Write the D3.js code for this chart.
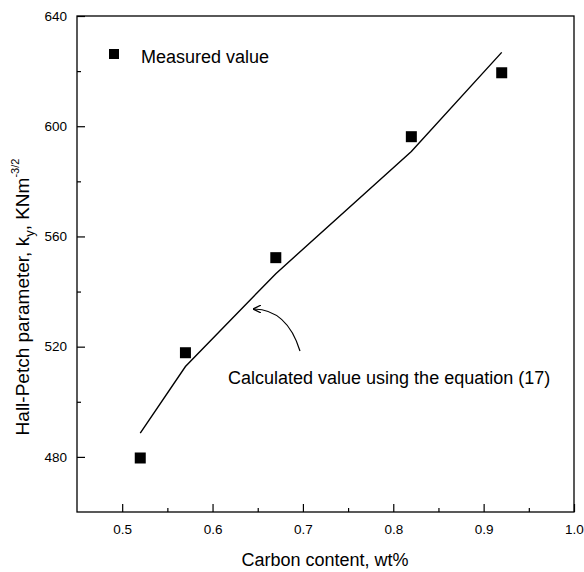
<!DOCTYPE html>
<html>
<head>
<meta charset="utf-8">
<script src="https://cdn.jsdelivr.net/npm/d3@7"></script>
<style>
  body { margin: 0; background: #fff; }
  text { font-family: "Liberation Sans", Arial, sans-serif; fill: #000; }
</style>
</head>
<body>
<svg id="chart" width="584" height="572"></svg>
<script>
// measured Hall-Petch parameter vs carbon content
var carbon = [0.52, 0.57, 0.67, 0.82, 0.92]
var measured = [479.6, 517.8, 552.3, 596.2, 619.4]

// calculated curve, equation (17)
var calcCarbon = [0.52, 0.57, 0.67, 0.82, 0.92]
var calcValue = [488.6, 512.8, 546.5, 590.8, 626.8]

var xTicks = [0.5, 0.6, 0.7, 0.8, 0.9, 1.0]
var xMinor = [0.55, 0.65, 0.75, 0.85, 0.95]
var yTicks = [480, 520, 560, 600, 640]
var yMinor = [500, 540, 580, 620]

var svg = d3.select('#chart')
var m = { left: 77, right: 574, top: 16, bottom: 512 }

var x = d3.scaleLinear().domain([0.45, 1.0]).range([m.left, m.right])
var y = d3.scaleLinear().domain([460, 640]).range([m.bottom, m.top])

// frame
svg.append('rect')
  .attr('x', m.left).attr('y', m.top)
  .attr('width', m.right - m.left).attr('height', m.bottom - m.top)
  .attr('fill', 'none').attr('stroke', '#000').attr('stroke-width', 1.3)

// x axis, ticks pointing inward
var xAxis = svg.append('g').attr('transform', 'translate(0,' + m.bottom + ')')
  .call(d3.axisTop(x).tickValues(xTicks).tickSize(8).tickFormat(d3.format('.1f')))
xAxis.select('.domain').remove()
xAxis.selectAll('text').attr('y', 22).attr('dy', 0).attr('font-size', 13.5)
svg.append('g').attr('transform', 'translate(0,' + m.bottom + ')')
  .call(d3.axisTop(x).tickValues(xMinor).tickSize(4).tickFormat(''))
  .select('.domain').remove()

// y axis, ticks pointing inward
var yAxis = svg.append('g').attr('transform', 'translate(' + m.left + ',0)')
  .call(d3.axisRight(y).tickValues(yTicks).tickSize(8).tickFormat(d3.format('d')))
yAxis.select('.domain').remove()
yAxis.selectAll('text').attr('x', -10).attr('text-anchor', 'end').attr('font-size', 13.5)
svg.append('g').attr('transform', 'translate(' + m.left + ',0)')
  .call(d3.axisRight(y).tickValues(yMinor).tickSize(4).tickFormat(''))
  .select('.domain').remove()

svg.selectAll('.tick line').attr('stroke', '#000').attr('stroke-width', 1.2)
svg.selectAll('.tick text').attr('fill', '#000').attr('font-family', '"Liberation Sans", Arial, sans-serif')

// calculated line
var line = d3.line().x(function (d, i) { return x(calcCarbon[i]) }).y(function (d) { return y(d) })
svg.append('path')
  .datum(calcValue)
  .attr('d', line)
  .attr('fill', 'none').attr('stroke', '#000').attr('stroke-width', 1.4)

// measured squares
var sq = 11
svg.selectAll('.pt')
  .data(measured)
  .enter().append('rect')
  .attr('class', 'pt')
  .attr('x', function (d, i) { return x(carbon[i]) - sq / 2 })
  .attr('y', function (d) { return y(d) - sq / 2 })
  .attr('width', sq).attr('height', sq)
  .attr('fill', '#000')

// legend
svg.append('rect').attr('x', 109).attr('y', 49).attr('width', 10).attr('height', 10).attr('fill', '#000')
svg.append('text').attr('x', 141).attr('y', 63).attr('font-size', 18).text('Measured value')

// annotation
svg.append('defs').append('marker')
  .attr('id', 'head').attr('viewBox', '0 0 10 10')
  .attr('refX', 10).attr('refY', 5)
  .attr('markerWidth', 7).attr('markerHeight', 7)
  .attr('orient', 'auto-start-reverse')
  .append('path').attr('d', 'M0,0 L10,5 L0,10').attr('fill', 'none').attr('stroke', '#000').attr('stroke-width', 1.4)

svg.append('path')
  .attr('d', 'M300,351 Q287,309 253,309')
  .attr('fill', 'none').attr('stroke', '#000').attr('stroke-width', 1.2)
  .attr('marker-end', 'url(#head)')

svg.append('text').attr('x', 228).attr('y', 384).attr('font-size', 18)
  .text('Calculated value using the equation (17)')

// axis titles
svg.append('text').attr('x', 325).attr('y', 566)
  .attr('text-anchor', 'middle').attr('font-size', 18)
  .text('Carbon content, wt%')

var yt = svg.append('text')
  .attr('transform', 'translate(29,297) rotate(-90)')
  .attr('text-anchor', 'middle').attr('font-size', 19)
yt.append('tspan').text('Hall-Petch parameter, k')
yt.append('tspan').attr('font-size', 13).attr('dy', 5).text('y')
yt.append('tspan').attr('dy', -5).text(', KNm')
yt.append('tspan').attr('font-size', 11).attr('dy', -10).text('-3/2')
</script>
</body>
</html>
